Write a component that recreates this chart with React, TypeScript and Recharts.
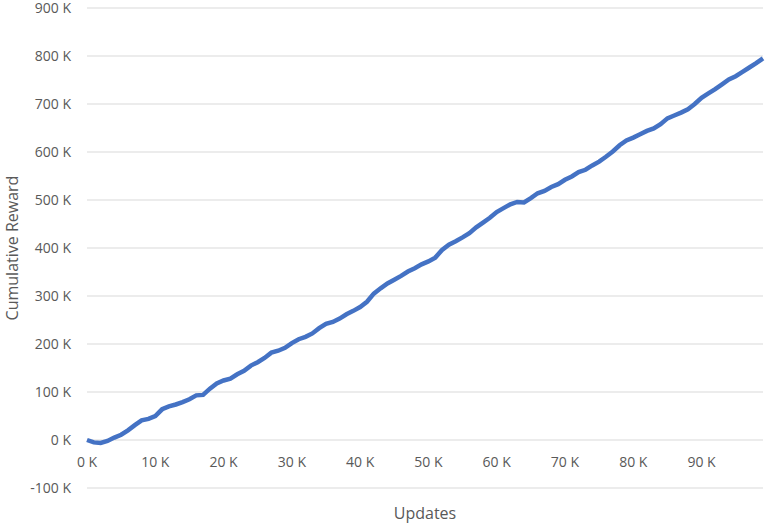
import React from 'react';
import { LineChart, Line, XAxis, YAxis, CartesianGrid } from 'recharts';

const updatesK = [
  0, 1, 2, 3, 4, 5, 6, 7, 8, 9,
  10, 11, 12, 13, 14, 15, 16, 17, 18, 19,
  20, 21, 22, 23, 24, 25, 26, 27, 28, 29,
  30, 31, 32, 33, 34, 35, 36, 37, 38, 39,
  40, 41, 42, 43, 44, 45, 46, 47, 48, 49,
  50, 51, 52, 53, 54, 55, 56, 57, 58, 59,
  60, 61, 62, 63, 64, 65, 66, 67, 68, 69,
  70, 71, 72, 73, 74, 75, 76, 77, 78, 79,
  80, 81, 82, 83, 84, 85, 86, 87, 88, 89,
  90, 91, 92, 93, 94, 95, 96, 97, 98, 99,
];

const rewardK = [
  0, -5, -6, -2, 5, 11, 20, 31, 41, 44,
  50, 64, 70, 74, 79, 85, 93, 94, 107, 118,
  124, 128, 137, 144, 155, 162, 171, 182, 186, 192,
  202, 210, 215, 222, 233, 242, 246, 253, 262, 269,
  277, 288, 305, 316, 326, 334, 342, 351, 358, 366,
  372, 380, 396, 407, 414, 422, 431, 443, 453, 463,
  475, 483, 491, 496, 495, 504, 514, 519, 527, 533,
  542, 549, 558, 563, 572, 580, 590, 601, 614, 624,
  630, 637, 644, 649, 658, 670, 676, 682, 689, 700,
  713, 722, 731, 741, 751, 758, 767, 776, 785, 795,
];

const xTicks = [0, 10, 20, 30, 40, 50, 60, 70, 80, 90];
const yTicks = [-100, 0, 100, 200, 300, 400, 500, 600, 700, 800, 900];

const data = updatesK.map((u, i) => ({ u, r: rewardK[i] }));

const FONT = '"Open Sans", "Noto Sans", sans-serif';
const TEXT = '#595959';

const XTick = (props: any) => {
  const { x, y, payload } = props;
  return (
    <text x={x} y={y - 29} textAnchor="middle" fill={TEXT} fontSize={14} fontFamily={FONT}>
      {`${payload.value} K`}
    </text>
  );
};

export default function App() {
  return (
    <div style={{ position: 'absolute', left: 0, top: 0, background: '#fff' }}>
      <LineChart
        width={765}
        height={524}
        data={data}
        margin={{ top: 8, right: 2, left: 0, bottom: 0 }}
      >
        <CartesianGrid vertical={false} stroke="#D9D9D9" strokeWidth={1} />
        <XAxis
          dataKey="u"
          type="number"
          domain={[0, 99]}
          ticks={xTicks}
          axisLine={false}
          tickLine={false}
          height={36}
          tick={<XTick />}
          label={{ value: 'Updates', position: 'insideBottom', offset: 5, fill: TEXT, fontSize: 16, fontFamily: FONT }}
        />
        <YAxis
          type="number"
          domain={[-100, 900]}
          ticks={yTicks}
          axisLine={false}
          tickLine={false}
          width={87}
          tickMargin={10}
          tickFormatter={(v: number) => `${v} K`}
          tick={{ fill: TEXT, fontSize: 14, fontFamily: FONT }}
          label={{ value: 'Cumulative Reward', angle: -90, position: 'insideLeft', offset: 12, fill: TEXT, fontSize: 16, fontFamily: FONT, style: { textAnchor: 'middle' } }}
        />
        <Line
          dataKey="r"
          type="linear"
          stroke="#4472C4"
          strokeWidth={4.5}
          dot={false}
          isAnimationActive={false}
        />
      </LineChart>
    </div>
  );
}
